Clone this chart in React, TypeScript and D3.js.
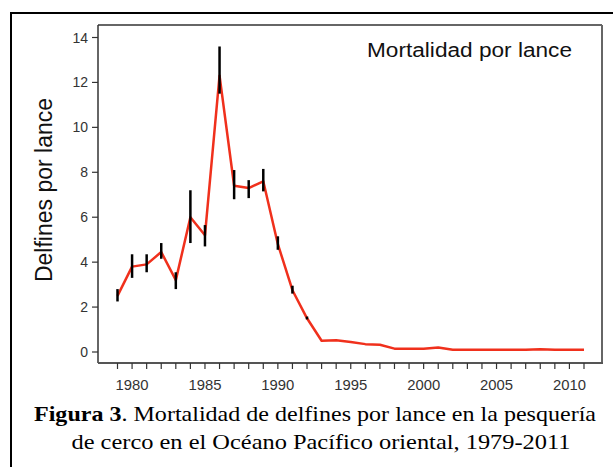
import React from "react";
import * as d3 from "d3";

const years = d3.range(1979, 2012);
const mortality = [2.5, 3.8, 3.9, 4.45, 3.2, 6.0, 5.2, 12.3, 7.4, 7.3, 7.6, 4.8, 2.75, 1.5, 0.5, 0.52, 0.45, 0.35, 0.32, 0.15, 0.15, 0.15, 0.2, 0.1, 0.1, 0.1, 0.1, 0.1, 0.1, 0.12, 0.1, 0.1, 0.1];
const errLow = [2.25, 3.3, 3.55, 4.15, 2.8, 4.85, 4.7, 11.5, 6.8, 6.85, 7.15, 4.55, 2.6, 1.45];
const errHigh = [2.8, 4.35, 4.35, 4.85, 3.55, 7.2, 5.65, 13.6, 8.1, 7.65, 8.15, 5.15, 2.95, 1.58];
const yTicks = [0, 2, 4, 6, 8, 10, 12, 14];
const xLabels = [1980, 1985, 1990, 1995, 2000, 2005, 2010];

export default function App() {
  const left = 98, top = 25, right = 602, bottom = 363;
  const x = d3.scaleLinear().domain([1979, 2011]).range([117.5, 584]);
  const y = d3.scaleLinear().domain([0, 14]).range([352, 37.5]);
  const line = d3.line<number>().x((_, i) => x(years[i])).y((d) => y(d));
  const sans = { fontFamily: "Liberation Sans" };
  const serif = { fontFamily: "Liberation Serif" };
  return (
    <svg width={613} height={467} style={{ position: "absolute", left: 0, top: 0, background: "#fff" }}>
      <rect x={0} y={0} width={613} height={467} fill="#fff" />
      <path d={`M11,475 V13 H620`} fill="none" stroke="#000" strokeWidth={2} />
      <line x1={left} y1={top} x2={right} y2={top} stroke="#333" strokeWidth={1.5} />
      <line x1={left} y1={top} x2={left} y2={bottom} stroke="#333" strokeWidth={1.5} />
      <line x1={right} y1={top} x2={right} y2={bottom + 1} stroke="#666" strokeWidth={2} />
      <line x1={left} y1={bottom} x2={right + 1} y2={bottom} stroke="#555" strokeWidth={2} />
      {yTicks.map((t) => (
        <g key={t}>
          <line x1={left - 6} x2={left} y1={y(t)} y2={y(t)} stroke="#333" strokeWidth={1.2} />
          <text x={left - 10} y={y(t) + 5} textAnchor="end" style={sans} fontSize={14} fill="#333">{t}</text>
        </g>
      ))}
      {years.map((yr) => (
        <line key={yr} x1={x(yr)} x2={x(yr)} y1={bottom} y2={bottom + 6} stroke="#333" strokeWidth={1.2} />
      ))}
      {xLabels.map((yr) => (
        <text key={yr} x={x(yr)} y={390} textAnchor="middle" style={sans} fontSize={14} fill="#333" textLength={33} lengthAdjust="spacingAndGlyphs">{yr}</text>
      ))}
      <path d={line(mortality) || ""} fill="none" stroke="#f0301c" strokeWidth={2.5} strokeLinejoin="round" />
      {errLow.map((lo, i) => (
        <line key={i} x1={x(years[i])} x2={x(years[i])} y1={y(lo)} y2={y(errHigh[i])} stroke="#000" strokeWidth={2.5} />
      ))}
      <text x={367} y={57} style={sans} fontSize={20} fill="#111" textLength={205} lengthAdjust="spacingAndGlyphs">Mortalidad por lance</text>
      <text transform="translate(52,190) rotate(-90)" textAnchor="middle" style={sans} fontSize={23} fill="#111">Delfines por lance</text>
      <text x={315} y={421} textAnchor="middle" style={serif} fontSize={21} fill="#000" textLength={562} lengthAdjust="spacingAndGlyphs">
        <tspan fontWeight="bold">Figura 3</tspan>. Mortalidad de delfines por lance en la pesquería
      </text>
      <text x={321} y={449} textAnchor="middle" style={serif} fontSize={21} fill="#000" textLength={499} lengthAdjust="spacingAndGlyphs">
        de cerco en el Océano Pacífico oriental, 1979-2011
      </text>
    </svg>
  );
}
